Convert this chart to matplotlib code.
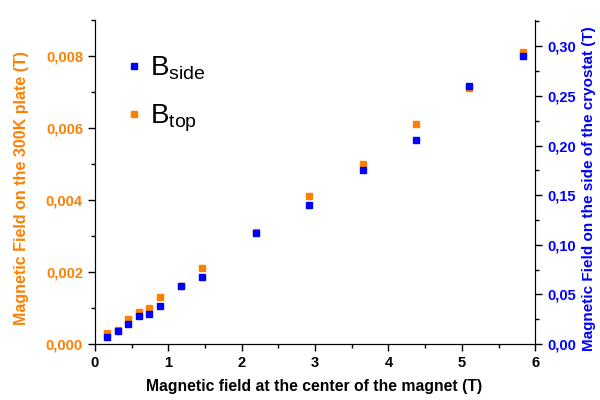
import numpy as np
import matplotlib.pyplot as plt
from matplotlib.ticker import MultipleLocator, FuncFormatter

plt.rcParams['font.family'] = ['Liberation Sans', 'DejaVu Sans']
plt.rcParams['mathtext.fontset'] = 'custom'
plt.rcParams['mathtext.rm'] = 'Liberation Sans'
plt.rcParams['mathtext.default'] = 'regular'

# data
b_center = [0.16, 0.31, 0.45, 0.60, 0.74, 0.89, 1.17, 1.46, 2.19, 2.92, 3.65, 4.38, 5.10, 5.83]
b_top = [0.0003, 0.0004, 0.0007, 0.0009, 0.0010, 0.0013, 0.0016, 0.0021, 0.0031,
         0.0041, 0.0050, 0.0061, 0.0071, 0.0081]
b_side = [0.007, 0.013, 0.020, 0.028, 0.030, 0.038, 0.058, 0.068, 0.112,
          0.140, 0.175, 0.206, 0.260, 0.290]

orange = '#FF8000'
blue = '#0000FF'

def comma(v, nd):
    return ('{:.%df}' % nd).format(v).replace('.', ',')

fig = plt.figure(figsize=(6, 4), dpi=100)
ax = fig.add_axes([0.158, 0.14, 0.734, 0.81])
ax2 = ax.twinx()

ax.plot(b_center, b_top, 's', color=orange, ms=5, label='B$_{top}$')
ax2.plot(b_center, b_side, 's', color=blue, ms=5, label='B$_{side}$')

ax.set_xlim(0, 6)
ax.set_ylim(0, 0.009)
ax2.set_ylim(0, 0.3265)

ax.xaxis.set_major_locator(MultipleLocator(1))
ax.xaxis.set_minor_locator(MultipleLocator(0.5))
ax.yaxis.set_major_locator(MultipleLocator(0.002))
ax.yaxis.set_minor_locator(MultipleLocator(0.001))
ax2.yaxis.set_major_locator(MultipleLocator(0.05))
ax2.yaxis.set_minor_locator(MultipleLocator(0.025))
ax.yaxis.set_major_formatter(FuncFormatter(lambda v, p: comma(v, 3)))
ax2.yaxis.set_major_formatter(FuncFormatter(lambda v, p: comma(v, 2)))

for a in (ax, ax2):
    a.spines['top'].set_visible(False)
    a.tick_params(which='major', direction='out', length=5, width=1, labelsize=10.5)
    a.tick_params(which='minor', direction='out', length=3, width=1)
ax.tick_params(axis='y', labelcolor=orange)
ax2.tick_params(axis='y', labelcolor=blue)
for lab in ax.get_xticklabels() + ax.get_yticklabels() + ax2.get_yticklabels():
    lab.set_fontweight('bold')

ax.set_xlabel('Magnetic field at the center of the magnet (T)', fontsize=11.3,
              fontweight='bold')
ax.xaxis.set_label_coords(0.498, -0.108)
ax.set_ylabel('Magnetic Field on the 300K plate (T)', fontsize=11.5, fontweight='bold',
              color=orange)
ax.yaxis.set_label_coords(-0.15, 0.48)
ax2.set_ylabel('Magnetic Field on the side of the cryostat (T)', fontsize=11,
               fontweight='bold', color=blue)
ax2.yaxis.set_label_coords(1.106, 0.48)

h2, l2 = ax2.get_legend_handles_labels()
h1, l1 = ax.get_legend_handles_labels()
ax.legend(h2 + h1, l2 + l1, loc='upper left', bbox_to_anchor=(0.0, 0.97), frameon=False,
          prop={'size': 20, 'weight': 'normal'}, handletextpad=0.1, labelspacing=0.75,
          handlelength=1.0, markerscale=1.0)

fig.savefig('out.png', dpi=100)
